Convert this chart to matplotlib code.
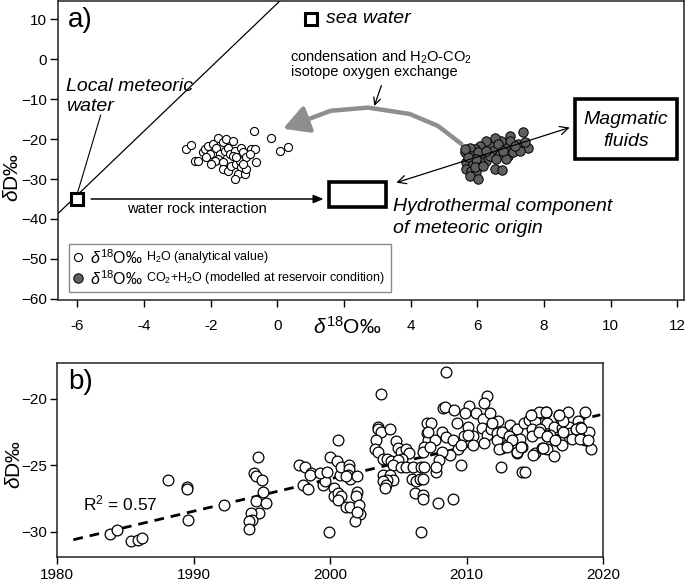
import matplotlib
matplotlib.use("Agg")
import matplotlib.pyplot as plt
from matplotlib.patches import Rectangle, FancyArrowPatch
from matplotlib.path import Path

plt.rcParams['font.family'] = ['Liberation Sans', 'DejaVu Sans']
plt.rcParams['mathtext.fontset'] = 'custom'
plt.rcParams['mathtext.rm'] = 'Liberation Sans'
plt.rcParams['mathtext.it'] = 'Liberation Sans:italic'

# ---- panel a: d18O / dD ----
h2o_o18 = [-2.73, -2.58, -2.48, -2.38, -2.23, -2.18, -2.08, -2.03, -1.93, -1.78,
           -1.83, -1.73, -1.78, -1.63, -1.53, -1.58, -1.48, -1.43, -1.33, -1.28,
           -1.33, -1.63, -1.63, -1.48, -1.38, -1.23, -1.13, -1.08, -1.03, -0.93,
           -1.08, -1.18, -1.28, -0.98, -0.93, -0.78, -0.68, -0.63, -0.83, -0.71,
           -0.18, 0.09, 0.32, -2.13, -1.88, -1.98, -1.23, -1.03]
h2o_dD = [-22.5, -21.4, -25.4, -25.6, -23.3, -22.5, -21.65, -23.7, -21.2, -19.6,
          -22.1, -23.7, -25.0, -20.8, -20.0, -22.9, -22.1, -23.7, -20.4, -22.9,
          -24.15, -25.8, -27.5, -27.9, -26.65, -26.2, -25.4, -22.1, -23.3, -24.6,
          -27.1, -28.7, -30.0, -28.7, -27.5, -22.5, -22.5, -25.8, -23.7, -17.9,
          -19.6, -23.1, -21.9, -24.6, -25.4, -26.2, -24.6, -26.2]

co2_o18 = [7.37, 7.52, 7.22, 6.97, 6.97, 6.82, 6.72, 6.52, 6.37, 6.27,
           6.07, 5.92, 5.77, 5.62, 5.82, 6.17, 6.47, 6.67, 6.92, 7.07,
           7.27, 5.67, 5.87, 5.67, 5.82, 5.97, 5.77, 6.02, 6.52, 6.75,
           6.27, 6.07, 6.37, 6.57, 6.87, 7.12, 6.62, 6.02, 6.27, 5.97,
           5.72, 5.92, 6.17, 5.62, 7.42, 6.77]
co2_dD = [-18.1, -22.1, -21.2, -19.15, -20.4, -22.1, -20.4, -19.6, -21.65, -20.4,
          -21.65, -22.5, -22.1, -23.3, -24.15, -23.7, -22.9, -23.7, -24.15, -23.3,
          -22.9, -25.8, -26.2, -27.5, -27.9, -28.3, -29.15, -30.0, -27.5, -27.7,
          -25.4, -25.8, -24.15, -25.0, -25.0, -21.65, -21.2, -23.3, -22.9, -25.0,
          -24.6, -27.1, -26.65, -22.5, -20.8, -22.9]

lmwl_o18 = [-7.0, 1.0]
lmwl_dD = [-42.0, 22.0]
meteoric_pt = (-6.0, -35.0)
seawater_pt = (1.0, 10.0)

a_xticks = [-6, -4, -2, 0, 2, 4, 6, 8, 10, 12]
a_xticklabels = ['-6', '-4', '-2', '0', '', '4', '6', '8', '10', '12']
a_yticks = [10, 0, -10, -20, -30, -40, -50, -60]

# ---- panel b: dD through time ----
years = [1983.9, 1984.4, 1985.4, 1985.9, 1986.2, 1988.1, 1989.5, 1989.5, 1989.6, 1992.2,
         1994.7, 1994.4, 1994.6, 1995.0, 1995.1, 1994.6, 1995.3, 1994.8, 1994.2, 1994.3,
         1994.1, 1994.1, 1997.7, 1998.2, 1998.6, 1998.5, 1998.0, 1998.4, 1999.5, 1999.6,
         1999.3, 1999.8, 2000.0, 2000.5, 2000.6, 1999.9, 2000.3, 2000.7, 2000.8, 2000.3,
         2000.6, 2000.8, 2000.6, 2001.4, 2001.4, 2001.3, 2001.5, 2001.2, 2002.0, 2002.0,
         2001.9, 2001.2, 2001.5, 2002.1, 2002.2, 2001.8, 2002.0, 2003.75, 2003.5, 2003.5,
         2003.75, 2004.4, 2003.4, 2003.3, 2003.5, 2004.85, 2003.9, 2004.2, 2004.5, 2005.0,
         2005.2, 2005.6, 2005.8, 2005.3, 2005.0, 2004.6, 2005.2, 2005.6, 2006.1, 2006.7,
         2003.9, 2004.4, 2004.6, 2004.2, 2003.9, 2004.1, 2004.0, 2006.0, 2006.3, 2006.6,
         2006.2, 2006.8, 2006.8, 2006.7, 2007.1, 2007.1, 2007.2, 2006.9, 2006.8,
         2008.5, 2011.5, 2011.3, 2008.3, 2008.4, 2009.1, 2010.2, 2009.9, 2010.7, 2011.2,
         2011.7, 2012.3, 2009.3, 2007.4, 2007.2, 2007.7, 2007.3, 2008.2, 2008.5, 2009.0,
         2009.4, 2008.8, 2008.2, 2008.0, 2007.8, 2009.6, 2009.8, 2010.1, 2010.5, 2010.5,
         2011.1, 2011.5, 2011.3, 2011.8, 2012.2, 2012.6, 2012.5, 2013.0, 2013.2, 2013.5,
         2013.7, 2013.9, 2014.1, 2013.7, 2014.1, 2014.3, 2014.2, 2014.6, 2014.8, 2015.0,
         2014.8, 2014.8, 2015.0, 2015.5, 2015.8, 2015.9, 2015.4, 2015.9, 2015.5, 2015.9,
         2016.4, 2016.4, 2016.8, 2016.9, 2017.4, 2017.0, 2016.8, 2016.5, 2017.0, 2017.5,
         2017.6, 2018.2, 2018.0, 2018.3, 2018.7, 2018.6, 2018.8, 2018.7, 2019.0, 2019.1,
         2009.0, 2007.9, 2006.9, 2006.8, 2007.8, 2009.6, 2010.1, 2011.9, 2012.2, 2012.6,
         2013.1, 2013.3, 2015.3, 2016.1, 2017.1, 2017.7, 2018.3, 2017.1,
         2014.9, 2012.4, 2013.0, 2013.7, 2014.0, 2015.6, 2015.9, 2016.5, 2018.0, 2018.4,
         2018.9, 2015.3, 2015.8, 2016.8, 2014.7]
dD = [-30.2, -29.85, -30.7, -30.6, -30.5, -26.1, -26.6, -26.8, -29.1, -28.0,
      -24.4, -25.6, -25.8, -26.1, -27.0, -27.7, -27.8, -28.6, -28.6, -29.1,
      -29.2, -29.8, -25.0, -25.1, -25.6, -25.7, -26.5, -26.8, -26.5, -26.2,
      -25.6, -25.5, -24.4, -24.7, -23.1, -30.0, -26.7, -25.7, -25.1, -27.3,
      -27.1, -27.3, -27.6, -25.0, -25.3, -25.7, -26.0, -25.8, -25.8, -27.0,
      -27.3, -28.1, -28.1, -28.0, -28.7, -29.2, -28.5, -19.65, -22.1, -22.3,
      -22.5, -22.3, -23.1, -23.8, -24.0, -23.2, -24.5, -24.5, -24.7, -23.7,
      -24.0, -23.8, -24.1, -24.5, -24.6, -25.0, -25.1, -25.1, -25.1, -25.1,
      -25.7, -25.7, -26.1, -26.1, -26.2, -26.5, -26.7, -26.0, -26.2, -26.0,
      -27.1, -27.2, -27.5, -30.0, -21.8, -22.6, -23.1, -23.6, -24.0,
      -18.0, -19.8, -20.3, -20.7, -20.6, -20.8, -20.5, -21.1, -21.1, -21.5,
      -21.1, -21.7, -21.8, -21.8, -22.5, -23.1, -23.6, -22.5, -22.9, -23.1,
      -23.8, -24.2, -24.0, -24.6, -25.5, -25.0, -22.8, -22.1, -22.8, -23.5,
      -22.2, -22.7, -23.3, -22.3, -22.6, -23.7, -25.1, -23.5, -22.0, -22.5,
      -22.3, -23.0, -23.6, -24.1, -25.5, -25.5, -21.8, -21.6, -21.2, -21.7,
      -22.3, -22.8, -24.1, -21.1, -21.0, -21.8, -22.3, -22.8, -23.7, -23.8,
      -24.3, -22.1, -21.2, -21.5, -21.0, -22.2, -23.0, -23.1, -23.5, -22.1,
      -22.6, -21.7, -22.3, -22.1, -20.95, -22.5, -22.7, -23.1, -22.5, -23.8,
      -27.5, -27.8, -25.1, -26.0, -25.1, -23.5, -22.7, -21.8, -23.1, -22.5,
      -22.8, -23.1, -22.5, -22.7, -22.5, -23.0, -23.0, -21.7,
      -24.2, -23.8, -23.6, -24.0, -23.6, -23.7, -22.8, -23.1, -22.3, -22.2,
      -23.1, -20.95, -20.95, -21.2, -21.2]

trend_years = [1981.2, 2019.8]
trend_dD = [-30.6, -21.2]
r2_text = "R$^2$ = 0.57"

b_xticks = [1980, 1990, 2000, 2010, 2020]
b_yticks = [-20, -25, -30]

frame_col = '#222222'

fig = plt.figure(figsize=(6.85, 5.82), dpi=100)

# ================= panel a =================
ax = fig.add_axes([58 / 685, 1 - 300 / 582, 626 / 685, 299 / 582])
ax.set_xlim(-6.58, 12.2)
ax.set_ylim(-60.3, 14.6)
ax.plot(lmwl_o18, lmwl_dD, color='black', lw=0.9)

ax.scatter(h2o_o18, h2o_dD, s=34, facecolor='white', edgecolor='black', linewidths=0.8, zorder=3)
ax.scatter(co2_o18, co2_dD, s=46, facecolor='#5f5f5f', edgecolor='black', linewidths=0.7, zorder=3)

ax.plot(*meteoric_pt, marker='s', ms=9, mfc='white', mec='black', mew=2.2, zorder=4)
ax.plot(*seawater_pt, marker='s', ms=9, mfc='white', mec='black', mew=2.2, zorder=4)
ax.text(1.47, 10.1, 'sea water', style='italic', fontsize=14, va='center')

ax.text(-6.33, -7.9, 'Local meteoric', style='italic', fontsize=14, va='baseline')
ax.text(-6.33, -12.9, 'water', style='italic', fontsize=14, va='baseline')
ax.plot([-5.3, -6.0], [-14.0, -33.6], color='black', lw=0.8)

# water rock interaction
ax.annotate('', xy=(1.47, -35.0), xytext=(-5.67, -35.0),
            arrowprops=dict(arrowstyle='-|>,head_length=0.6,head_width=0.25', color='black', lw=1.1))
ax.text(-2.4, -38.4, 'water rock interaction', fontsize=10.5, ha='center', va='baseline')

# boxes
ax.add_patch(Rectangle((1.56, -37.1), 1.71, 6.3, fill=False, lw=2.6, ec='black', zorder=4))
ax.add_patch(Rectangle((8.92, -24.9), 3.06, 15.0, fill=False, lw=2.6, ec='black', zorder=4))
ax.text(3.48, -37.9, 'Hydrothermal component', style='italic', fontsize=14, va='baseline')
ax.text(3.48, -43.4, 'of meteoric origin', style='italic', fontsize=14, va='baseline')
ax.text(10.45, -16.2, 'Magmatic', style='italic', fontsize=14, ha='center', va='baseline')
ax.text(10.45, -21.7, 'fluids', style='italic', fontsize=14, ha='center', va='baseline')

# two-headed mixing arrow
ax.annotate('', xy=(8.77, -17.1), xytext=(3.57, -30.9),
            arrowprops=dict(arrowstyle='<->,head_length=0.6,head_width=0.3', color='black', lw=0.9,
                            shrinkA=0, shrinkB=0))

# grey curved arrow
verts = [(5.52, -21.2), (4.82, -16.7), (3.97, -13.7), (2.72, -12.1), (1.6, -12.9), (0.17, -17.4)]
curve = FancyArrowPatch(path=Path(verts), arrowstyle='-|>,head_length=1.1,head_width=0.6',
                        mutation_scale=14, color='#8e8e8e', lw=3.2, zorder=2)
ax.add_patch(curve)
ax.text(3.1, -0.5, 'condensation and H$_2$O-CO$_2$', fontsize=10.5, ha='center', va='baseline')
ax.text(2.9, -4.3, 'isotope oxygen exchange', fontsize=10.5, ha='center', va='baseline')
ax.annotate('', xy=(2.91, -11.7), xytext=(3.12, -6.6),
            arrowprops=dict(arrowstyle='->,head_length=0.5,head_width=0.25', color='black', lw=0.9,
                            shrinkA=0, shrinkB=0))

# legend (drawn by hand)
ax.add_patch(Rectangle((-6.24, -58.4), 9.66, 12.25, fill=True, fc='white', ec='#8a8a8a', lw=1.0, zorder=5))
ax.scatter([-5.97], [-49.65], s=34, facecolor='white', edgecolor='black', linewidths=0.8, zorder=6)
ax.scatter([-5.97], [-54.9], s=46, facecolor='#5f5f5f', edgecolor='black', linewidths=0.7, zorder=6)
ax.text(-5.63, -49.65, r'$\delta^{18}$O‰', fontsize=11.5, va='center', zorder=6)
ax.text(-5.63, -54.9, r'$\delta^{18}$O‰', fontsize=11.5, va='center', zorder=6)
ax.text(-3.93, -49.65, 'H$_2$O (analytical value)', fontsize=9, va='center', zorder=6)
ax.text(-3.93, -54.9, 'CO$_2$+H$_2$O (modelled at reservoir condition)', fontsize=9, va='center', zorder=6)

ax.text(0.016, 0.935, 'a)', transform=ax.transAxes, fontsize=20, va='center')

ax.set_xticks(a_xticks)
ax.set_xticklabels(a_xticklabels)
ax.set_yticks(a_yticks)
ax.tick_params(axis='x', direction='out', length=5, width=1, labelsize=11, pad=9)
ax.tick_params(axis='y', direction='out', length=6, width=1, labelsize=11, pad=2)
for sp in ax.spines.values():
    sp.set_color(frame_col)
    sp.set_linewidth(1.1)

fig.text(347 / 685, 1 - 327 / 582, r'$\delta^{18}$O‰', fontsize=15, ha='center', va='center')
fig.text(13 / 685, 1 - 178 / 582, r'$\delta$D‰', fontsize=15, rotation=90, ha='center', va='center')

# ================= panel b =================
bx = fig.add_axes([57 / 685, 1 - 557 / 582, 546 / 685, 194 / 582])
bx.set_xlim(1980, 2020)
bx.set_ylim(-31.9, -17.3)
bx.scatter(years, dD, s=60, facecolor='white', edgecolor='black', linewidths=0.9, zorder=3)
bx.plot(trend_years, trend_dD, color='black', lw=2, dashes=(3.5, 2.5), zorder=2)
bx.text(1981.9, -28.42, r2_text, fontsize=12.5, va='baseline')
bx.text(0.02, 0.90, 'b)', transform=bx.transAxes, fontsize=20, va='center')

bx.set_xticks(b_xticks)
bx.set_yticks(b_yticks)
bx.tick_params(axis='x', direction='out', length=5, width=1, labelsize=11, pad=3)
bx.tick_params(axis='y', direction='out', length=5, width=1, labelsize=11, pad=2)
for sp in bx.spines.values():
    sp.set_color(frame_col)
    sp.set_linewidth(1.1)

fig.text(14 / 685, 1 - 465 / 582, r'$\delta$D‰', fontsize=15, rotation=90, ha='center', va='center')

fig.savefig('out.png', dpi=100)
